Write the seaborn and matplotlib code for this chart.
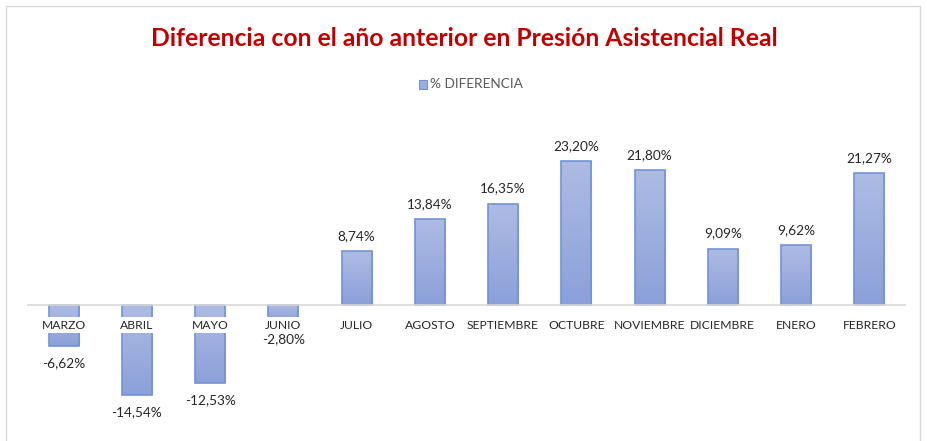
import numpy as np
import pandas as pd
import matplotlib.pyplot as plt
import seaborn as sns
from matplotlib.colors import LinearSegmentedColormap
from matplotlib.patches import Rectangle

meses = ['MARZO', 'ABRIL', 'MAYO', 'JUNIO', 'JULIO', 'AGOSTO', 'SEPTIEMBRE',
         'OCTUBRE', 'NOVIEMBRE', 'DICIEMBRE', 'ENERO', 'FEBRERO']
diferencia = [-6.62, -14.54, -12.53, -2.80, 8.74, 13.84, 16.35,
              23.20, 21.80, 9.09, 9.62, 21.27]

df = pd.DataFrame({'mes': meses, 'dif': diferencia})

sns.set_style('white')
plt.rcParams['font.family'] = ['Lato', 'DejaVu Sans']

fig = plt.figure(figsize=(9.28, 4.41), dpi=100)
# axes: x from 27 to 906 px, y from 120 to 441 px
ax = fig.add_axes([27 / 928, 0, (906 - 27) / 928, (441 - 120) / 441])

sns.barplot(data=df, x='mes', y='dif', color='#9AAEE0', width=0.41,
            edgecolor='#7193D8', linewidth=1.2, ax=ax)

ax.set_xlim(-0.5, len(meses) - 0.5)
ax.set_ylim(-21.9, 29.8)

# gradient fill inside each bar
cmap = LinearSegmentedColormap.from_list('g', ['#8BA0DA', '#AEBCE3'])
grad = np.linspace(0, 1, 256).reshape(-1, 1)
for p in ax.patches:
    x0, y0 = p.get_x(), p.get_y()
    w, h = p.get_width(), p.get_height()
    lo, hi = min(y0, y0 + h), max(y0, y0 + h)
    im = ax.imshow(grad, extent=[x0, x0 + w, lo, hi], origin='lower',
                   aspect='auto', cmap=cmap, zorder=p.get_zorder() - 0.1)
    im.set_clip_path(p)
    p.set_facecolor('none')
ax.set_xlim(-0.5, len(meses) - 0.5)
ax.set_ylim(-21.9, 29.8)

ax.axhline(0, color='#D9D9D9', linewidth=1.2, zorder=1)

# value labels
for i, v in enumerate(diferencia):
    txt = f'{v:.2f}%'.replace('.', ',')
    off = 15 if v > 0 else -17
    ax.annotate(txt, (i, v), xytext=(0, off), textcoords='offset pixels',
                ha='center', va='center', fontsize=9.8, color='#262626')

# category labels over the bars, on white
for i, m in enumerate(meses):
    ax.annotate(m, (i, 0), xytext=(0, -20), textcoords='offset pixels',
                ha='center', va='center', fontsize=8.7, color='#262626',
                bbox=dict(boxstyle='square,pad=0.2', fc='white', ec='none'),
                zorder=5)

ax.set_xticks([])
ax.set_yticks([])
ax.set_xlabel('')
ax.set_ylabel('')
sns.despine(ax=ax, left=True, bottom=True)

fig.text(0.5, 1 - 38 / 441, 'Diferencia con el año anterior en Presión Asistencial Real',
         ha='center', va='center', fontsize=17.8, fontweight='bold', color='#C00000')

# legend
fig.patches.append(Rectangle((419 / 928, 1 - 89 / 441), 8 / 928, 9 / 441,
                             transform=fig.transFigure, fc='#9AAEE0', ec='#7193D8', lw=0.8))
fig.text(430 / 928, 1 - 84 / 441, '% DIFERENCIA', ha='left', va='center',
         fontsize=9.8, color='#595959')

# chart border
fig.patches.append(Rectangle((6 / 928, -0.05), 914 / 928, 1 - 6 / 441 + 0.05,
                             transform=fig.transFigure, fill=False, ec='#D9D9D9', lw=1))

fig.savefig('out.png', dpi=100)
